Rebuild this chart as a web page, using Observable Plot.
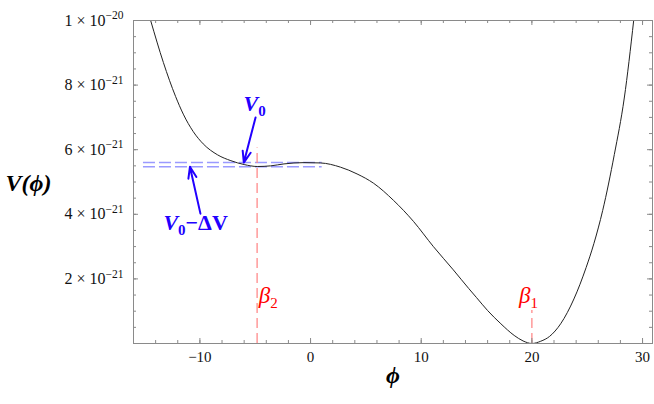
<!DOCTYPE html>
<html><head><meta charset="utf-8">
<script src="https://cdn.jsdelivr.net/npm/d3@7"></script>
<script src="https://cdn.jsdelivr.net/npm/@observablehq/plot@0.6"></script>
<style>body{margin:0;background:#fff;overflow:hidden}#chart svg{display:block}</style>
</head><body><div id="chart"></div>
<script>
// Potential curve V(phi), values in units of 1e-21
const phi = [-14.45, -13.3, -12.2, -11.5, -10.6, -9.7, -8.4, -7.2, -6.0, -4.8, -3.6, -2.4, -0.6, 0.9, 2.7, 4.2, 5.7, 7.5, 9.3, 11.1, 12.9, 14.3, 15.0, 16.0, 17.2, 18.4, 19.2, 20.0, 20.8, 21.6, 22.6, 23.8, 24.9, 25.6, 26.4, 27.45, 28.35, 29.2];
const V   = [10.0, 8.7, 7.65, 7.10, 6.56, 6.18, 5.84, 5.66, 5.54, 5.48, 5.50, 5.56, 5.60, 5.59, 5.46, 5.25, 4.96, 4.43, 3.78, 3.00, 2.28, 1.70, 1.42, 1.02, 0.61, 0.25, 0.08, 0.0, 0.07, 0.22, 0.61, 1.38, 2.35, 3.09, 4.12, 5.85, 7.6, 10.0];

const xTickValues = [-10, 0, 10, 20, 30];
const xTickLabels = ["\u221210", "0", "10", "20", "30"];
const xMinorTicks = d3.range(-16, 31, 2);
const yTickValues = [2, 4, 6, 8, 10];
const yTickLabels = ["2 \u00d7 10^\u221221", "4 \u00d7 10^\u221221", "6 \u00d7 10^\u221221", "8 \u00d7 10^\u221221", "1 \u00d7 10^\u221220"];
const yMinorTicks = d3.range(0, 10.01, 0.5);

// annotation values
const V0 = 5.60, V0minusDV = 5.47;
const dashPhiRange = [-15.1, 1.05];
const beta2 = -4.83, beta1 = 20;
const beta2Top = 6.05, beta1Top = 1.02;

const curve = phi.map((p, i) => ({phi: p, V: V[i]}));
const H = 323, W = 519;
const SERIF = "Liberation Serif, Times New Roman, serif";
const blue = "#2200ff";
const gray = "#8a8a8a";

const chart = Plot.plot({
  width: 654, height: 404,
  marginLeft: 133, marginRight: 2, marginTop: 20, marginBottom: 61,
  style: {fontFamily: SERIF, background: "white"},
  x: {domain: [-16.0, 30.9], axis: null},
  y: {domain: [0, 10], axis: null},
  marks: [
    // dashed guides
    Plot.ruleY([V0, V0minusDV], {x1: dashPhiRange[0], x2: dashPhiRange[1], stroke: "#9a9aff", strokeWidth: 1.5, strokeDasharray: "12,4"}),
    Plot.ruleX([beta2], {y1: 0, y2: beta2Top, stroke: "#ff8a8a", strokeWidth: 1.3, strokeDasharray: "10,5"}),
    Plot.ruleX([beta1], {y1: 0, y2: beta1Top, stroke: "#ff8a8a", strokeWidth: 1.3, strokeDasharray: "10,5"}),
    // curve
    Plot.line(curve, {x: "phi", y: "V", curve: "monotone-x", stroke: "#222", strokeWidth: 1, clip: true}),
    // frame & inward ticks
    Plot.frame({stroke: gray}),
    Plot.tickX(xMinorTicks, {x: d => d, insetTop: H - 3, stroke: gray}),
    Plot.tickX(xMinorTicks, {x: d => d, insetBottom: H - 3, stroke: gray}),
    Plot.tickX(xTickValues, {x: d => d, insetTop: H - 5, stroke: gray}),
    Plot.tickX(xTickValues, {x: d => d, insetBottom: H - 5, stroke: gray}),
    Plot.tickY(yMinorTicks, {y: d => d, insetRight: W - 3, stroke: gray}),
    Plot.tickY(yMinorTicks, {y: d => d, insetLeft: W - 3, stroke: gray}),
    Plot.tickY(yTickValues, {y: d => d, insetRight: W - 5, stroke: gray}),
    Plot.tickY(yTickValues, {y: d => d, insetLeft: W - 5, stroke: gray}),
    // tick labels
    Plot.text(xTickValues, {x: d => d, text: (d, i) => xTickLabels[i], frameAnchor: "bottom", dy: 18, fontSize: 15, fontFamily: SERIF, fill: "#111"}),
    Plot.text(yTickValues, {y: d => d, text: (d, i) => yTickLabels[i], frameAnchor: "left", dx: -10, textAnchor: "end", fontSize: 16, fontFamily: SERIF, fill: "#111", className: "ylab"}),
    // axis titles
    Plot.text(["V(\u03d5)"], {frameAnchor: "left", dx: -105, dy: 1.5, fontSize: 24, fontFamily: SERIF, fontWeight: "bold", fontStyle: "italic", textAnchor: "middle"}),
    Plot.text(["\u03d5"], {frameAnchor: "bottom", dy: 39, fontSize: 24, fontFamily: SERIF, fontWeight: "bold", fontStyle: "italic", textAnchor: "middle"}),
    // arrows
    Plot.arrow([{x1: -4.97, y1: 7.0, x2: -6.03, y2: V0}], {x1: "x1", y1: "y1", x2: "x2", y2: "y2", stroke: blue, strokeWidth: 2, headLength: 9, headAngle: 40}),
    Plot.arrow([{x1: -9.95, y1: 4.02, x2: -10.9, y2: V0minusDV}], {x1: "x1", y1: "y1", x2: "x2", y2: "y2", stroke: blue, strokeWidth: 2, headLength: 9, headAngle: 40}),
    // annotation texts (rich-formatted after render)
    Plot.text(["V0"], {x: -6.06, y: 7.43, textAnchor: "start", fill: blue, fontSize: 22, fontFamily: SERIF, fontWeight: "bold", className: "lab-v0"}),
    Plot.text(["V0-dV"], {x: -13.3, y: 3.72, textAnchor: "start", fill: blue, fontSize: 22, fontFamily: SERIF, fontWeight: "bold", className: "lab-v0dv"}),
    Plot.text(["b2"], {x: -4.68, y: 1.49, textAnchor: "start", fill: "#ff0000", fontSize: 23, fontFamily: SERIF, className: "lab-b2"}),
    Plot.text(["b1"], {x: 18.84, y: 1.49, textAnchor: "start", fill: "#ff0000", fontSize: 23, fontFamily: SERIF, className: "lab-b1"})
  ]
});

const NS = "http://www.w3.org/2000/svg";
function rich(t, parts) {
  t.textContent = "";
  let shift = 0;
  for (const p of parts) {
    const ts = document.createElementNS(NS, "tspan");
    ts.textContent = p.t;
    if (p.style) ts.setAttribute("font-style", p.style);
    if (p.weight) ts.setAttribute("font-weight", p.weight);
    if (p.size) ts.setAttribute("font-size", p.size);
    const target = p.shift || 0;
    if (target !== shift) { ts.setAttribute("dy", target - shift); shift = target; }
    t.appendChild(ts);
  }
}
// y tick labels with superscripts
chart.querySelectorAll("g.ylab text").forEach(t => {
  const [base, sup] = t.textContent.split("^");
  rich(t, [{t: base}, {t: sup, size: 11.5, shift: -6.5}]);
});
const q = c => chart.querySelector(`g.${c} text`);
rich(q("lab-v0"), [{t: "V", style: "italic"}, {t: "0", size: 15, shift: 5}]);
rich(q("lab-v0dv"), [{t: "V", style: "italic"}, {t: "0", size: 15, shift: 5}, {t: "\u2212\u0394V", shift: 0}]);
rich(q("lab-b2"), [{t: "\u03b2", style: "italic"}, {t: "2", size: 15, shift: 5}]);
rich(q("lab-b1"), [{t: "\u03b2", style: "italic"}, {t: "1", size: 15, shift: 5}]);

document.getElementById("chart").appendChild(chart);
</script>
</body></html>
